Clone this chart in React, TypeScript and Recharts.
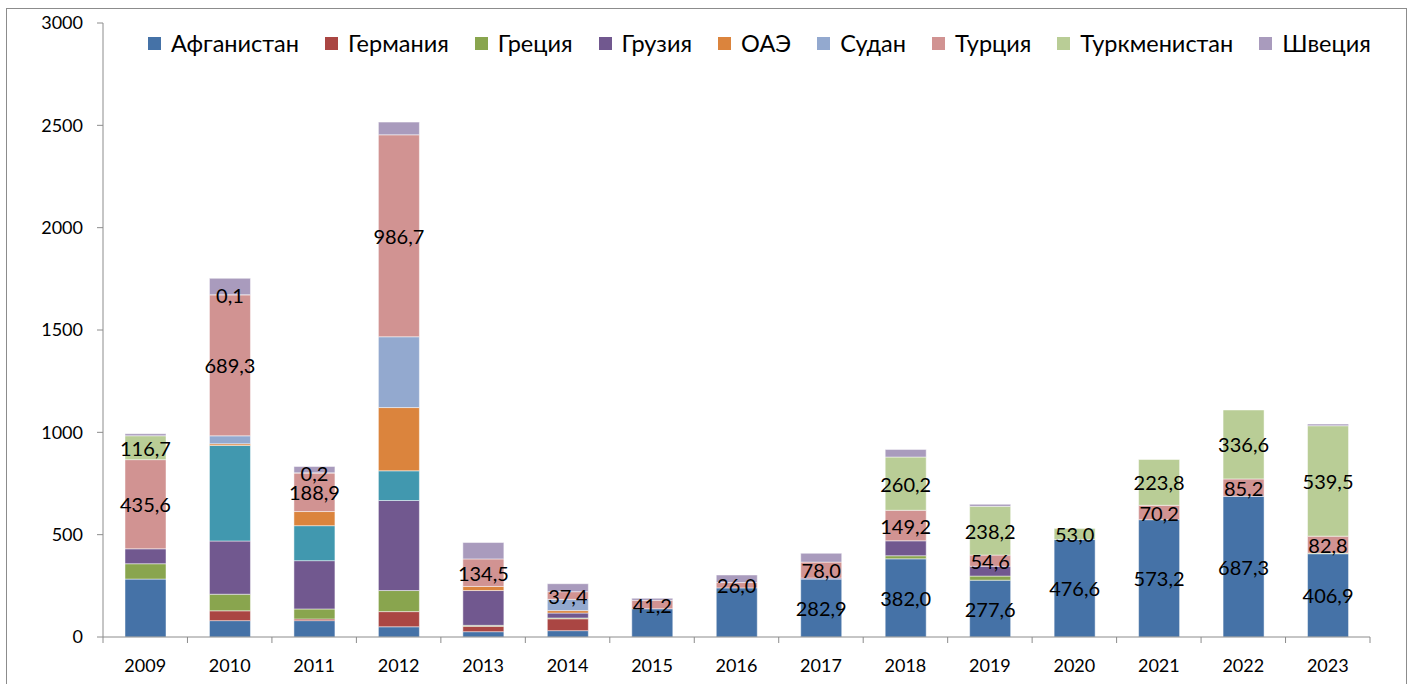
import { BarChart, Bar, XAxis, YAxis, Legend, LabelList } from "recharts";

const FONT = "Lato, 'Liberation Sans', sans-serif";

const years = [
  "2009", "2010", "2011", "2012", "2013", "2014", "2015", "2016",
  "2017", "2018", "2019", "2020", "2021", "2022", "2023",
];

const afghanistan = [283, 80, 80, 50, 26, 31, 138, 240, 282.9, 382.0, 277.6, 476.6, 573.2, 687.3, 406.9];
const germany = [0, 48, 8, 74, 26, 58, 0, 0, 0, 0, 0, 0, 0, 0, 0];
const greece = [75, 81, 49, 103, 5, 4, 0, 0, 0, 15, 20, 0, 0, 0, 3];
const georgia = [73, 260, 236, 440, 170, 24, 0, 0, 5, 73, 48, 0, 0, 0, 0];
// teal series, present in the bars but missing from the legend
const unlisted = [0, 467, 171, 145, 0, 0, 0, 0, 0, 0, 0, 0, 0, 0, 0];
const uae = [0, 8, 69, 309, 20, 12, 0, 0, 0, 0, 0, 0, 0, 0, 0];
const sudan = [0, 39, 0, 346, 0, 55, 0, 0, 0, 0, 0, 0, 0, 0, 0];
const turkey = [435.6, 689.3, 188.9, 986.7, 134.5, 37.4, 41.2, 26.0, 78.0, 149.2, 54.6, 0, 70.2, 85.2, 82.8];
const turkmenistan = [116.7, 0.1, 0.2, 0, 0, 0, 0, 0, 0, 260.2, 238.2, 53.0, 223.8, 336.6, 539.5];
const sweden = [10, 80, 31, 62, 80, 39, 10, 37, 43, 37, 10, 0, 0, 0, 8];

const yTicks = [0, 500, 1000, 1500, 2000, 2500, 3000];

// afghanistan values get a label only from this year on
const afghanLabelFrom = "2017";

const series = [
  { key: "afghanistan", name: "Афганистан", color: "#4572A7", values: afghanistan },
  { key: "germany", name: "Германия", color: "#AA4643", values: germany },
  { key: "greece", name: "Греция", color: "#89A54E", values: greece },
  { key: "georgia", name: "Грузия", color: "#71588F", values: georgia },
  { key: "unlisted", name: "", color: "#4198AF", values: unlisted },
  { key: "uae", name: "ОАЭ", color: "#DB843D", values: uae },
  { key: "sudan", name: "Судан", color: "#93A9CF", values: sudan },
  { key: "turkey", name: "Турция", color: "#D19392", values: turkey },
  { key: "turkmenistan", name: "Туркменистан", color: "#B9CD96", values: turkmenistan },
  { key: "sweden", name: "Швеция", color: "#A99BBD", values: sweden },
];

const data = years.map((year, i) => {
  const row: Record<string, string | number> = { year };
  series.forEach((s) => (row[s.key] = s.values[i]));
  return row;
});

const W = 1398;
const H = 668;
const MARGIN = { top: 14, right: 35, left: 0, bottom: 0 };
const Y_AXIS_W = 96;
const X_AXIS_H = 40;
const PLOT_LEFT = MARGIN.left + Y_AXIS_W;
const PLOT_W = W - MARGIN.left - MARGIN.right - Y_AXIS_W;
const BAND = PLOT_W / years.length;
const AXIS_Y = H - MARGIN.bottom - X_AXIS_H;
const AXIS_COLOR = "#8c8c8c";

const fmt = (v: number) => v.toFixed(1).replace(".", ",");

// label index comes from the bar's position, since empty segments are skipped
function makeLabel(values: number[], show: (i: number) => boolean) {
  return (props: any) => {
    const vb = props.viewBox ?? props;
    const cx = vb.x + vb.width / 2;
    const i = Math.floor((cx - PLOT_LEFT) / BAND);
    if (!values[i] || !show(i)) return null;
    return (
      <text
        x={cx}
        y={vb.y + vb.height / 2}
        textAnchor="middle"
        dominantBaseline="central"
        fontSize={20}
        fontFamily={FONT}
        fill="#000"
      >
        {fmt(values[i])}
      </text>
    );
  };
}

function CategoryTick(props: any) {
  const { x, payload, index } = props;
  const left = x - BAND / 2;
  return (
    <g>
      <line x1={left} x2={left} y1={AXIS_Y} y2={AXIS_Y + 6} stroke={AXIS_COLOR} />
      {index === years.length - 1 && (
        <line x1={left + BAND} x2={left + BAND} y1={AXIS_Y} y2={AXIS_Y + 6} stroke={AXIS_COLOR} />
      )}
      <text
        x={x}
        y={AXIS_Y + 28}
        textAnchor="middle"
        dominantBaseline="central"
        fontSize={18}
        fontFamily={FONT}
        fill="#000"
      >
        {payload.value}
      </text>
    </g>
  );
}

function LegendRow() {
  const items = series.filter((s) => s.name);
  return (
    <div style={{ display: "flex", gap: 26, fontFamily: FONT, fontSize: 23.5, whiteSpace: "nowrap" }}>
      {items.map((s) => (
        <div key={s.key} style={{ display: "flex", alignItems: "center", gap: 10 }}>
          <span style={{ width: 13, height: 13, background: s.color, display: "inline-block" }} />
          <span style={{ color: "#000" }}>{s.name}</span>
        </div>
      ))}
    </div>
  );
}

export default function App() {
  return (
    <div
      style={{
        position: "absolute",
        left: 6,
        top: 8,
        width: 1401,
        height: 676,
        boxSizing: "border-box",
        border: `1px solid ${AXIS_COLOR}`,
        borderBottom: "none",
        background: "#fff",
      }}
    >
      <BarChart width={W} height={H} data={data} margin={MARGIN}>
        <XAxis
          dataKey="year"
          height={X_AXIS_H}
          axisLine={{ stroke: AXIS_COLOR }}
          tickLine={false}
          tick={<CategoryTick />}
          interval={0}
        />
        <YAxis
          width={Y_AXIS_W}
          domain={[0, 3000]}
          ticks={yTicks}
          axisLine={{ stroke: AXIS_COLOR }}
          tickLine={{ stroke: AXIS_COLOR }}
          tickSize={6}
          tickMargin={14}
          tick={{ fontSize: 18, fontFamily: FONT, fill: "#000" }}
        />
        <Legend
          layout="horizontal"
          verticalAlign="middle"
          align="center"
          wrapperStyle={{ top: 20, left: 141, width: "auto" }}
          content={<LegendRow />}
        />
        {series.map((s) => (
          <Bar
            key={s.key}
            dataKey={s.key}
            name={s.name}
            stackId="a"
            fill={s.color}
            barSize={41}
            stroke="#ffffff"
            strokeOpacity={0.6}
            strokeWidth={0.8}
            legendType={s.name ? "square" : "none"}
            isAnimationActive={false}
          >
            {s.key === "turkey" && <LabelList content={makeLabel(turkey, () => true)} />}
            {s.key === "turkmenistan" && (
              <LabelList content={makeLabel(turkmenistan, () => true)} />
            )}
            {s.key === "afghanistan" && (
              <LabelList
                content={makeLabel(afghanistan, (i) => years[i] >= afghanLabelFrom)}
              />
            )}
          </Bar>
        ))}
      </BarChart>
    </div>
  );
}
